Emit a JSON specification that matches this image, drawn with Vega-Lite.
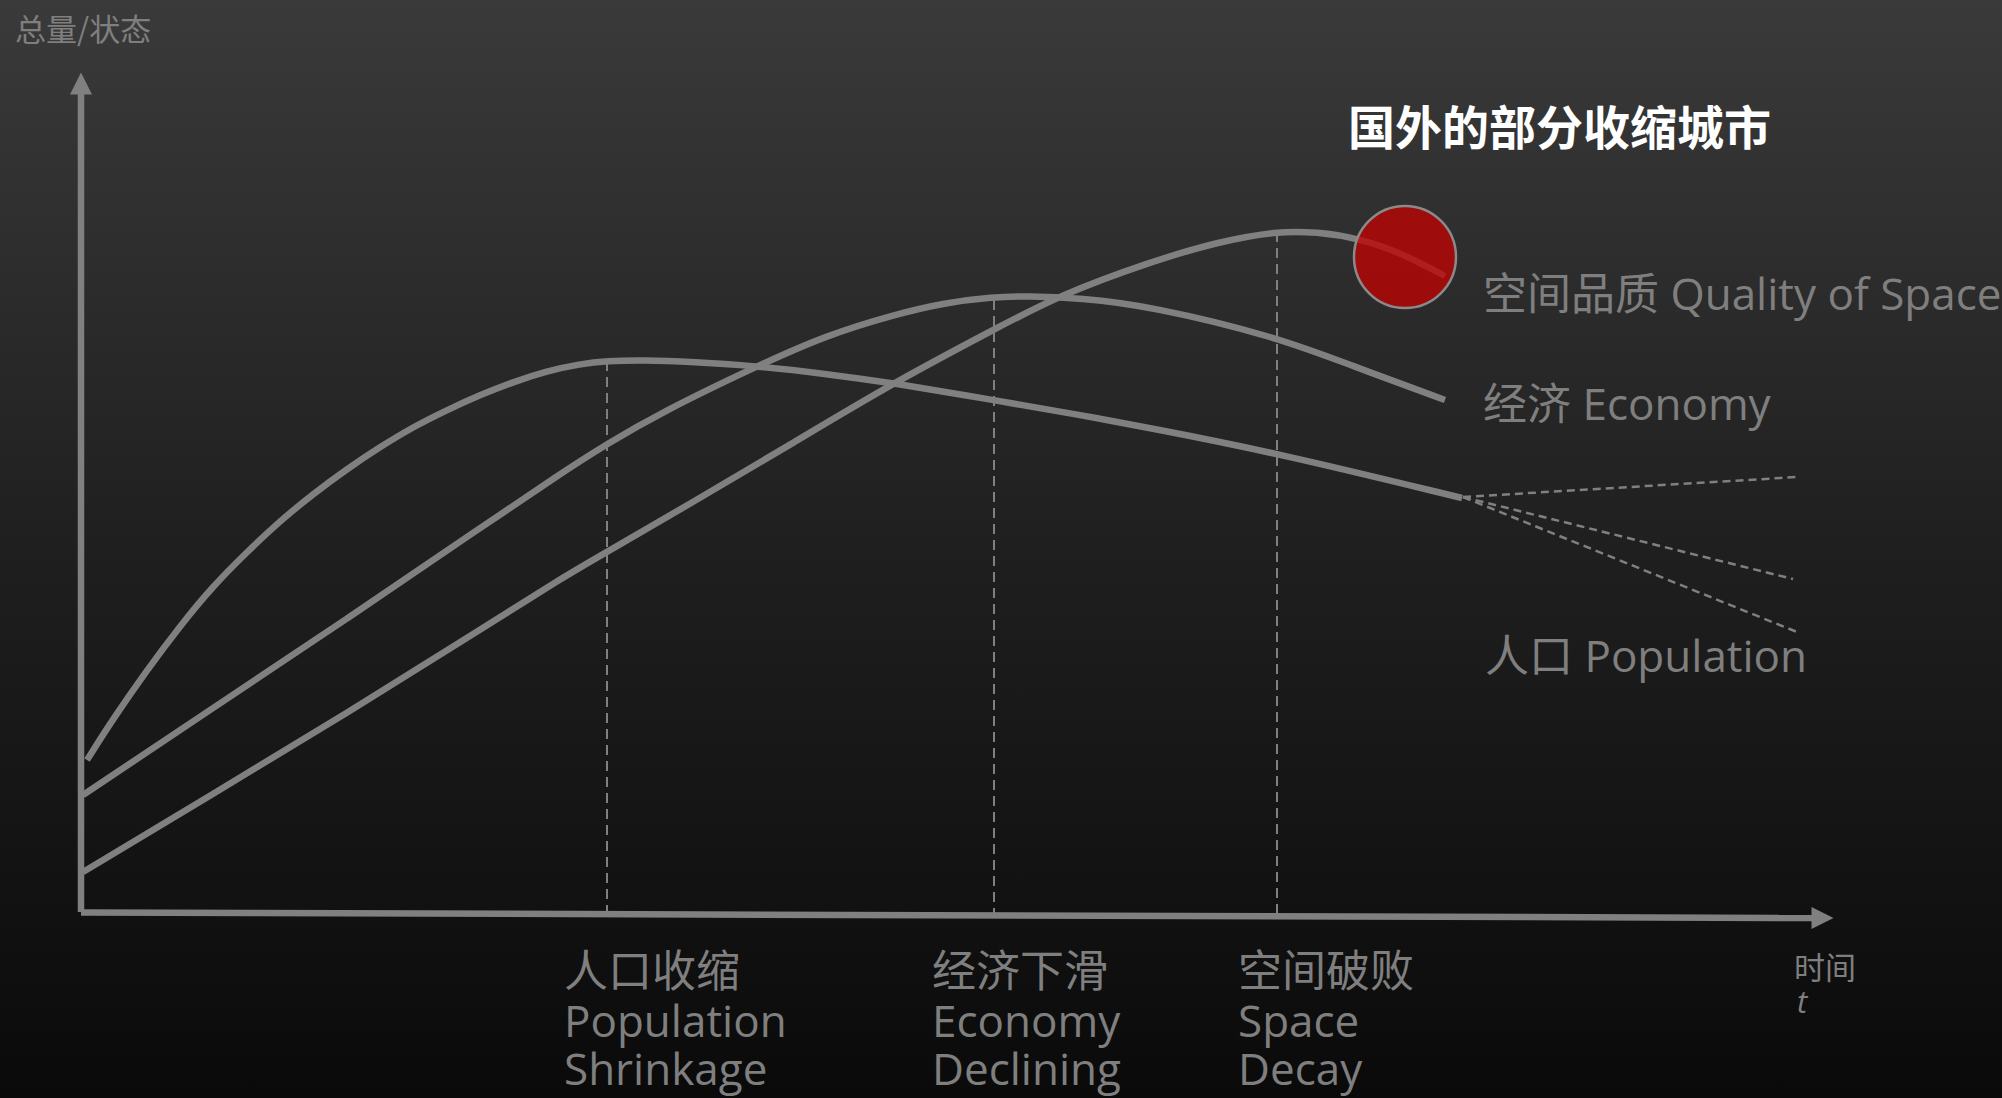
{
  "$schema": "https://vega.github.io/schema/vega-lite/v6.json",
  "width": 2002,
  "height": 1098,
  "autosize": {"type": "fit", "contains": "padding"},
  "padding": 0,
  "background": "#0a0a0a",
  "config": {"view": {"stroke": null}},
  "datasets": {
    "bg": [{"t": -80, "t2": 1922, "v": 912, "v2": -186}],
    "guides": [
      {"stage": "population", "t": 527, "v": 551, "vb": -2},
      {"stage": "economy", "t": 914, "v": 612, "vb": -2},
      {"stage": "space", "t": 1197, "v": 680, "vb": -3}
    ],
    "curves": [
      {"series": "人口", "t": 7, "v": 152},
      {"series": "人口", "t": 33, "v": 193},
      {"series": "人口", "t": 67, "v": 242},
      {"series": "人口", "t": 100, "v": 286},
      {"series": "人口", "t": 133, "v": 326},
      {"series": "人口", "t": 167, "v": 360},
      {"series": "人口", "t": 200, "v": 391},
      {"series": "人口", "t": 233, "v": 418},
      {"series": "人口", "t": 267, "v": 443},
      {"series": "人口", "t": 300, "v": 465},
      {"series": "人口", "t": 333, "v": 485},
      {"series": "人口", "t": 367, "v": 502},
      {"series": "人口", "t": 400, "v": 517},
      {"series": "人口", "t": 433, "v": 530},
      {"series": "人口", "t": 467, "v": 541},
      {"series": "人口", "t": 500, "v": 548},
      {"series": "人口", "t": 527, "v": 551},
      {"series": "人口", "t": 563, "v": 552},
      {"series": "人口", "t": 613, "v": 550},
      {"series": "人口", "t": 677, "v": 546},
      {"series": "人口", "t": 747, "v": 538},
      {"series": "人口", "t": 813, "v": 529},
      {"series": "人口", "t": 913, "v": 512},
      {"series": "人口", "t": 1000, "v": 497},
      {"series": "人口", "t": 1070, "v": 484},
      {"series": "人口", "t": 1197, "v": 459},
      {"series": "人口", "t": 1382, "v": 414},
      {"series": "经济", "t": 3, "v": 117},
      {"series": "经济", "t": 133, "v": 204},
      {"series": "经济", "t": 267, "v": 293},
      {"series": "经济", "t": 400, "v": 384},
      {"series": "经济", "t": 480, "v": 438},
      {"series": "经济", "t": 527, "v": 468},
      {"series": "经济", "t": 580, "v": 499},
      {"series": "经济", "t": 677, "v": 546},
      {"series": "经济", "t": 747, "v": 577},
      {"series": "经济", "t": 813, "v": 597},
      {"series": "经济", "t": 863, "v": 609},
      {"series": "经济", "t": 913, "v": 615},
      {"series": "经济", "t": 947, "v": 616},
      {"series": "经济", "t": 1000, "v": 614},
      {"series": "经济", "t": 1070, "v": 606},
      {"series": "经济", "t": 1197, "v": 575},
      {"series": "经济", "t": 1270, "v": 547},
      {"series": "经济", "t": 1365, "v": 512},
      {"series": "空间品质", "t": 3, "v": 40},
      {"series": "空间品质", "t": 133, "v": 118},
      {"series": "空间品质", "t": 267, "v": 199},
      {"series": "空间品质", "t": 400, "v": 282},
      {"series": "空间品质", "t": 480, "v": 333},
      {"series": "空间品质", "t": 527, "v": 360},
      {"series": "空间品质", "t": 613, "v": 410},
      {"series": "空间品质", "t": 713, "v": 469},
      {"series": "空间品质", "t": 813, "v": 529},
      {"series": "空间品质", "t": 913, "v": 582},
      {"series": "空间品质", "t": 980, "v": 617},
      {"series": "空间品质", "t": 1070, "v": 650},
      {"series": "空间品质", "t": 1137, "v": 670},
      {"series": "空间品质", "t": 1197, "v": 681},
      {"series": "空间品质", "t": 1237, "v": 680},
      {"series": "空间品质", "t": 1277, "v": 674},
      {"series": "空间品质", "t": 1320, "v": 660},
      {"series": "空间品质", "t": 1365, "v": 636}
    ],
    "projections": [
      {"branch": "high", "t": 1383, "v": 415},
      {"branch": "high", "t": 1717, "v": 435},
      {"branch": "mid", "t": 1383, "v": 415},
      {"branch": "mid", "t": 1713, "v": 333},
      {"branch": "low", "t": 1383, "v": 415},
      {"branch": "low", "t": 1717, "v": 280}
    ],
    "axes": [
      {"axis": "y", "t": 1, "v": 0},
      {"axis": "y", "t": 1, "v": 818},
      {"axis": "x", "t": 1, "v": -0.5},
      {"axis": "x", "t": 1732, "v": -6}
    ],
    "arrows": [
      {"dir": "up", "t": 1, "v": 828.5},
      {"dir": "right", "t": 1742.5, "v": -6}
    ],
    "marker": [{"city": "国外的部分收缩城市", "t": 1325, "v": 655}],
    "title": [{"label": "国外的部分收缩城市", "t": 1268, "v": 767}],
    "curveLabels": [
      {"label": "空间品质 Quality of Space", "t": 1403, "v": 602},
      {"label": "经济 Economy", "t": 1403, "v": 492},
      {"label": "人口 Population", "t": 1405, "v": 240}
    ],
    "stageLabels": [
      {"label": "人口收缩", "t": 484, "v": -75},
      {"label": "Population", "t": 484, "v": -125},
      {"label": "Shrinkage", "t": 484, "v": -173},
      {"label": "经济下滑", "t": 852, "v": -75},
      {"label": "Economy", "t": 852, "v": -125},
      {"label": "Declining", "t": 852, "v": -173},
      {"label": "空间破败", "t": 1158, "v": -75},
      {"label": "Space", "t": 1158, "v": -125},
      {"label": "Decay", "t": 1158, "v": -173}
    ],
    "axisLabels": [
      {"label": "总量/状态", "t": -65, "v": 871},
      {"label": "时间", "t": 1714, "v": -67}
    ],
    "timeSymbol": [{"label": "t", "t": 1717, "v": -101}]
  },
  "encoding": {
    "x": {"field": "t", "type": "quantitative", "scale": {"domain": [-80, 1922], "nice": false, "zero": false}, "axis": null},
    "y": {"field": "v", "type": "quantitative", "scale": {"domain": [-186, 912], "nice": false, "zero": false}, "axis": null}
  },
  "layer": [
    {
      "data": {"name": "bg"},
      "mark": {"type": "rect", "fill": {"gradient": "linear", "x1": 0, "y1": 0, "x2": 0, "y2": 1, "stops": [{"offset": 0, "color": "#3a3a3a"}, {"offset": 0.5, "color": "#1f1f1f"}, {"offset": 1, "color": "#0a0a0a"}]}},
      "encoding": {"x2": {"field": "t2"}, "y2": {"field": "v2"}}
    },
    {
      "data": {"name": "guides"},
      "mark": {"type": "rule", "color": "#808080", "strokeWidth": 2, "strokeDash": [10, 6]},
      "encoding": {"y2": {"field": "vb"}}
    },
    {
      "data": {"name": "curves"},
      "mark": {"type": "line", "color": "#808080", "strokeWidth": 6.5, "interpolate": "basis"},
      "encoding": {"detail": {"field": "series"}}
    },
    {
      "data": {"name": "projections"},
      "mark": {"type": "line", "color": "#808080", "strokeWidth": 2.5, "strokeDash": [8, 5]},
      "encoding": {"detail": {"field": "branch"}}
    },
    {
      "data": {"name": "axes"},
      "mark": {"type": "line", "color": "#808080", "strokeWidth": 6.5},
      "encoding": {"detail": {"field": "axis"}}
    },
    {
      "data": {"name": "arrows"},
      "transform": [{"filter": "datum.dir === 'up'"}],
      "mark": {"type": "point", "shape": "M0,-1L1,1L-1,1Z", "filled": true, "color": "#808080", "size": 484, "opacity": 1}
    },
    {
      "data": {"name": "arrows"},
      "transform": [{"filter": "datum.dir === 'right'"}],
      "mark": {"type": "point", "shape": "M1,0L-1,-1L-1,1Z", "filled": true, "color": "#808080", "size": 484, "opacity": 1}
    },
    {
      "data": {"name": "marker"},
      "mark": {"type": "point", "shape": "circle", "filled": true, "fill": "#be0303", "fillOpacity": 0.78, "stroke": "#8a8a8a", "strokeOpacity": 1, "strokeWidth": 2.5, "size": 10404}
    },
    {
      "data": {"name": "title"},
      "mark": {"type": "text", "align": "left", "baseline": "alphabetic", "font": "Noto Sans CJK SC", "fontWeight": "bold", "fontSize": 47, "color": "#ffffff"},
      "encoding": {"text": {"field": "label"}}
    },
    {
      "data": {"name": "curveLabels"},
      "mark": {"type": "text", "align": "left", "baseline": "alphabetic", "font": "Open Sans, Noto Sans CJK SC", "fontSize": 44, "color": "#7f7f7f"},
      "encoding": {"text": {"field": "label"}}
    },
    {
      "data": {"name": "stageLabels"},
      "mark": {"type": "text", "align": "left", "baseline": "alphabetic", "font": "Open Sans, Noto Sans CJK SC", "fontSize": 44, "color": "#7f7f7f"},
      "encoding": {"text": {"field": "label"}}
    },
    {
      "data": {"name": "axisLabels"},
      "mark": {"type": "text", "align": "left", "baseline": "alphabetic", "font": "Noto Sans CJK SC", "fontSize": 31, "color": "#7f7f7f"},
      "encoding": {"text": {"field": "label"}}
    },
    {
      "data": {"name": "timeSymbol"},
      "mark": {"type": "text", "align": "left", "baseline": "alphabetic", "font": "Open Sans", "fontStyle": "italic", "fontSize": 31, "color": "#7f7f7f"},
      "encoding": {"text": {"field": "label"}}
    }
  ]
}
